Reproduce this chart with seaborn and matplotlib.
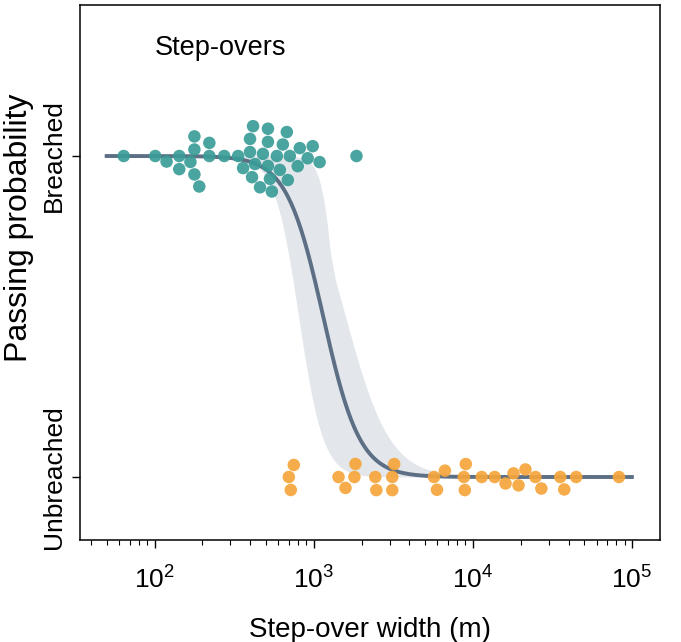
import numpy as np
import pandas as pd
import matplotlib
matplotlib.use("Agg")
import matplotlib.pyplot as plt
import seaborn as sns

# step-over widths (m)
breached_width = [64, 101, 119, 143, 143, 168, 178, 178, 178, 191, 221, 221, 274,
                  335, 360, 398, 398, 410, 416, 428, 460, 480, 516, 516, 516, 531,
                  546, 587, 613, 640, 678, 688, 708, 794, 818, 917, 986, 1090, 1858]
unbreached_width = [698, 718, 750, 1433, 1585, 1803, 1830, 2440, 2477, 3119, 3119,
                    3208, 5704, 5957, 6683, 8790, 8917, 9040, 11380, 13730, 16070,
                    18030, 19390, 21430, 24760, 26990, 35480, 37580, 44670, 82940]
state_labels = ["Unbreached", "Breached"]

# logistic fit in log10(width): (midpoint, slope)
fit_params = (3.06, 8.7)
# curves whose envelope gives the confidence band
ci_curves = [(2.905, 13.0), (3.20, 7.2), (3.14, 24.0), (3.175, 12.0)]

teal = "#3a9c97"
orange = "#f6a53b"

plt.rcParams["font.family"] = ["Liberation Sans", "DejaVu Sans"]
plt.rcParams["mathtext.default"] = "regular"

df = pd.DataFrame({
    "width": breached_width + unbreached_width,
    "outcome": [1] * len(breached_width) + [0] * len(unbreached_width),
})
df["state"] = df["outcome"].map({1: "Breached", 0: "Unbreached"})


def logistic(t, mid, slope):
    return 1.0 / (1.0 + np.exp(slope * (t - mid)))


fig, ax = plt.subplots(figsize=(6.81, 6.42), dpi=100)
fig.subplots_adjust(left=0.1175, right=0.969, bottom=0.159, top=0.992)

sns.swarmplot(data=df, x="width", y="outcome", hue="state",
              palette={"Breached": teal, "Unbreached": orange},
              orient="h", native_scale=True, log_scale=(10, False), size=9,
              linewidth=0, alpha=0.92, legend=False, ax=ax, zorder=3)

t = np.linspace(np.log10(50), 5, 500)
xs = 10 ** t
fit = logistic(t, *fit_params)
bounds = np.array([logistic(t, m, k) for m, k in ci_curves])
ax.fill_between(xs, bounds.min(axis=0), bounds.max(axis=0),
                color="#e3e7eb", lw=0, zorder=1)
sns.lineplot(x=xs, y=fit, color="#5c6f85", lw=2.8, ax=ax, zorder=2)

ax.set_xscale("log")
ax.set_xlim(34, 1.5e5)
ax.set_ylim(-0.196, 1.47)

ax.set_yticks([0, 1])
ax.set_yticklabels(state_labels, rotation=90, va="center", fontsize=19)
ax.tick_params(axis="y", length=6, width=1, pad=4)
ax.tick_params(axis="x", which="major", length=6, width=1, labelsize=19, pad=13)
ax.tick_params(axis="x", which="minor", length=3.5, width=0.8)

ax.set_xlabel("Step-over width (m)", fontsize=20)
ax.set_ylabel("Passing probability", fontsize=23)
ax.xaxis.set_label_coords(0.5, -0.145)
ax.yaxis.set_label_coords(-0.079, 0.583)

for s in ax.spines.values():
    s.set_color("black")
    s.set_linewidth(1.1)

ax.text(0.129, 0.92, "Step-overs", transform=ax.transAxes, fontsize=19.5,
        va="center", ha="left")

plt.savefig("out.png", dpi=100)
